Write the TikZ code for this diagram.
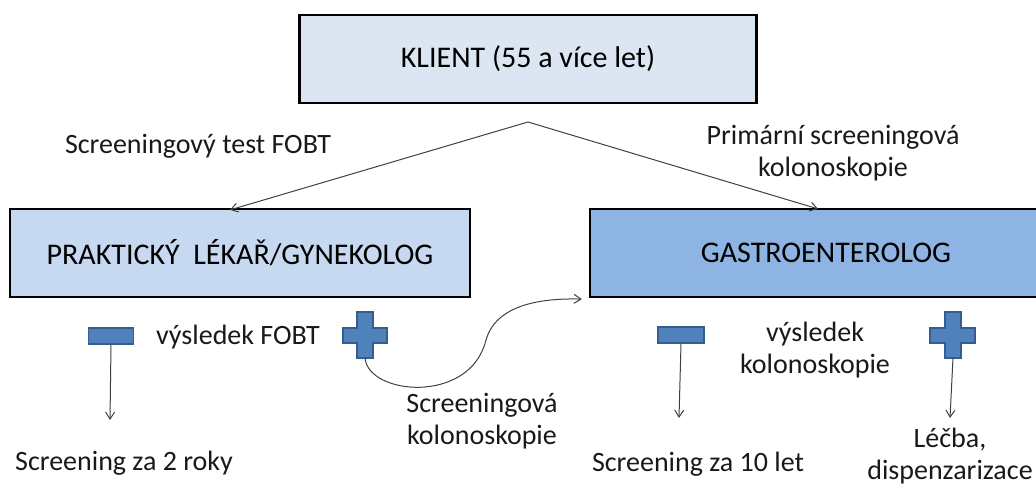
\documentclass[tikz,border=0pt]{standalone}
\usepackage{fontspec}
\setmainfont{Carlito}
\definecolor{klfill}{HTML}{DCE6F2}
\definecolor{lpfill}{HTML}{C6D9F1}
\definecolor{rpfill}{HTML}{8EB4E3}
\definecolor{sgfill}{HTML}{4F81BD}
\definecolor{sgdraw}{HTML}{385D8A}
\definecolor{arr}{HTML}{404040}
\usetikzlibrary{arrows.meta}
\begin{document}
\begin{tikzpicture}[x=1pt,y=-1pt,
  box/.style={draw=black,line width=2.2pt,minimum height=88pt,inner sep=0pt,font=\fontsize{30}{34}\selectfont},
  lbl/.style={font=\fontsize{28}{32}\selectfont,align=center,inner sep=0pt,text=black!90},
  conn/.style={draw=arr,line width=1pt,-{Straight Barb[length=7pt,width=9pt]}},
  sign/.style={fill=sgfill,draw=sgdraw,line width=1.2pt}]
\useasboundingbox (0,0) rectangle (1036,486);
\node[box,fill=klfill,minimum width=457pt] (kl) at (528,59) {KLIENT (55 a více let)};
\node[box,fill=lpfill,minimum width=460pt] (lp) at (240,253) {PRAKTICKÝ\ \ LÉKAŘ/GYNEKOLOG};
\node[box,fill=rpfill,minimum width=472pt] (rp) at (826,253) {GASTROENTEROLOG};
\coordinate (split) at (528,122);
\draw[conn] (split) -- ([xshift=-10pt,yshift=-2pt]lp.north);
\draw[conn] (split) -- ([xshift=-8pt,yshift=-1pt]rp.north);
\node[lbl] (t1) at (198,146) {Screeningový test FOBT};
\node[lbl] (t2) at (833,153) {Primární screeningová\\kolonoskopie};
% left result
\node[sign,minimum width=45pt,minimum height=16pt,inner sep=0pt] (lm) at (111,336) {};
\node[lbl] (t3) at (238,337) {výsledek FOBT};
\fill[sign] (357,312) -- (373,312) -- (373,328) -- (387,328) -- (387,343) -- (373,343) -- (373,358) -- (357,358) -- (357,343) -- (343,343) -- (343,328) -- (357,328) -- cycle;
\coordinate (lpl) at (365,358);
\coordinate (lpe) at (110,420);
\draw[conn] (lm.south) -- (lpe);
\node[lbl] (t4) at (124,463) {Screening za 2 roky};
\draw[conn] (lpl) .. controls (368,395) and (470,405) .. (486,340) .. controls (496,305) and (540,298) .. ([xshift=-7pt,yshift=-1pt]rp.south west);
\node[lbl] (t5) at (482,421) {Screeningová\\kolonoskopie};
% right result
\node[sign,minimum width=46pt,minimum height=16pt,inner sep=0pt] (rm) at (681,335) {};
\node[lbl] (t6) at (815,350) {výsledek\\kolonoskopie};
\fill[sign] (945,312) -- (961,312) -- (961,328) -- (975,328) -- (975,343) -- (961,343) -- (961,358) -- (945,358) -- (945,343) -- (930,343) -- (930,328) -- (945,328) -- cycle;
\coordinate (rpl) at (953,358);
\coordinate (rme) at (679,418);
\coordinate (rpe) at (950,418);
\draw[conn] (rm.south) -- (rme);
\draw[conn] (rpl) -- (rpe);
\node[lbl] (t7) at (698,464) {Screening za 10 let};
\node[lbl] (t8) at (950,456) {Léčba,\\dispenzarizace};
\end{tikzpicture}
\end{document}
